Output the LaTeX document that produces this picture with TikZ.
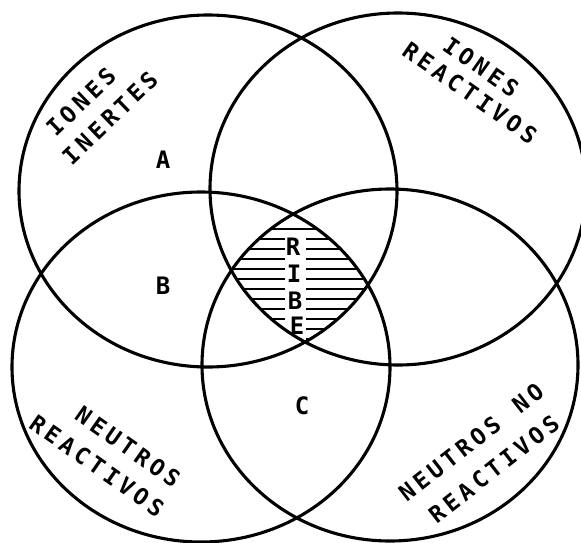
\documentclass[tikz,border=0pt]{standalone}
\usepackage{fontspec}
\newfontfamily\labfont{DejaVu Sans Mono}
\newlength\chw
\setlength\chw{18pt}
\makeatletter
\def\spacedtext#1{\spaced@loop#1\relax}
\def\spaced@loop#1{\ifx\relax#1\else\makebox[\chw][c]{#1}\expandafter\spaced@loop\fi}
\makeatother
\tikzset{
  venn/.style={line width=3.1pt},
  hatchline/.style={line width=2.4pt},
  cat/.style={inner sep=0pt, font=\labfont\bfseries\fontsize{23}{27}\selectfont},
  reg/.style={inner sep=0pt, font=\labfont\bfseries\fontsize{24}{28}\selectfont},
}
\begin{document}
\begin{tikzpicture}[x=1pt,y=-1pt]
\useasboundingbox (0,0) rectangle (581,543);
\clip (0,0) rectangle (581,543);
\coordinate (cTL) at (208,191);
\coordinate (cTR) at (398,189);
\coordinate (cBL) at (201,367);
\coordinate (cBR) at (390,365);
% hatched central region
\begin{scope}
  \clip (cTL) ellipse [x radius=189pt, y radius=176pt];
  \clip (cTR) ellipse [x radius=188pt, y radius=176pt];
  \clip (cBL) ellipse [x radius=189pt, y radius=175pt];
  \clip (cBR) ellipse [x radius=188pt, y radius=176pt];
  \foreach \yy in {229,239,...,339}
    \draw[hatchline] (225,\yy) -- (375,\yy);
  \fill[white] (285,235) rectangle (306,345);
\end{scope}
% circles
\draw[venn] (cTL) ellipse [x radius=189pt, y radius=176pt];
\draw[venn] (cTR) ellipse [x radius=188pt, y radius=176pt];
\draw[venn] (cBL) ellipse [x radius=189pt, y radius=175pt];
\draw[venn] (cBR) ellipse [x radius=188pt, y radius=176pt];
% category labels
\node[cat, rotate=44] (t1a) at (81,102) {\spacedtext{IONES}};
\node[cat, rotate=44] (t1b) at (110,118) {\spacedtext{INERTES}};
\node[cat, rotate=-35] (t2a) at (481,67) {\spacedtext{IONES}};
\node[cat, rotate=-35] (t2b) at (470,93) {\spacedtext{REACTIVOS}};
\node[cat, rotate=-35] (t3a) at (128,447) {\spacedtext{NEUTROS}};
\node[cat, rotate=-35] (t3b) at (97,466) {\spacedtext{REACTIVOS}};
\node[cat, rotate=38] (t4a) at (471,442) {\spacedtext{NEUTROS~NO}};
\node[cat, rotate=38] (t4b) at (494,469) {\spacedtext{REACTIVOS}};
% region labels
\node[reg] (lA) at (163,160) {A};
\node[reg] (lB) at (163,286) {B};
\node[reg] (lC) at (302,406) {C};
\node[reg] (r1) at (293,247) {R};
\node[reg] (r2) at (294,274) {I};
\node[reg] (r3) at (295,301) {B};
\node[reg] (r4) at (297,326) {E};
\end{tikzpicture}
\end{document}
